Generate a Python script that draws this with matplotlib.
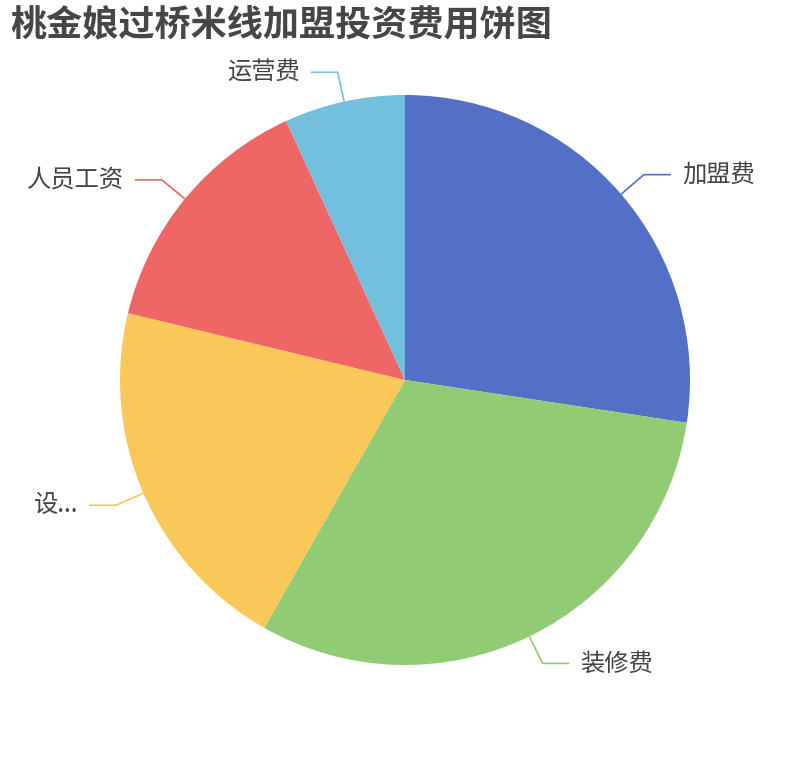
import matplotlib
matplotlib.use("Agg")
import matplotlib.pyplot as plt
import numpy as np

plt.rcParams['font.family'] = ['Noto Sans CJK SC', 'DejaVu Sans']

title = "桃金娘过桥米线加盟投资费用饼图"
categories = ["加盟费", "装修费", "设备费", "人员工资", "运营费"]
display_labels = ["加盟费", "装修费", "设...", "人员工资", "运营费"]
values = [8, 9, 6, 4.2, 2]
colors = ["#5470c6", "#91cc75", "#fac858", "#ee6666", "#73c0de"]

W, H = 810, 760
fig = plt.figure(figsize=(W / 100, H / 100), dpi=100)
ax = fig.add_axes([0, 0, 1, 1])
ax.set_xlim(0, W)
ax.set_ylim(0, H)
ax.set_aspect('equal')
ax.axis('off')

cx, cy = 405, H - 380
R = 285
wedges, _ = ax.pie(values, colors=colors, startangle=90, counterclock=False,
                   center=(cx, cy), radius=R, frame=True,
                   wedgeprops=dict(linewidth=0))
ax.set_xlim(0, W)
ax.set_ylim(0, H)
ax.axis('off')

R2 = 315
L2 = 27
for w, lab, col in zip(wedges, display_labels, colors):
    mid = np.deg2rad((w.theta1 + w.theta2) / 2)
    x1, y1 = cx + R * np.cos(mid), cy + R * np.sin(mid)
    x2, y2 = cx + R2 * np.cos(mid), cy + R2 * np.sin(mid)
    s = 1 if np.cos(mid) >= 0 else -1
    x3 = x2 + s * L2
    ax.plot([x1, x2, x3], [y1, y2, y2], color=col, lw=1.2, solid_capstyle='butt')
    ax.text(x3 + s * 11, y2, lab, ha='left' if s > 0 else 'right', va='center',
            fontsize=17.5, color='#444444')

fig.text(10 / W, 1 - 25 / H, title, ha='left', va='center', fontsize=26,
         fontweight='bold', color='#464646')

fig.savefig("out.png", dpi=100)
